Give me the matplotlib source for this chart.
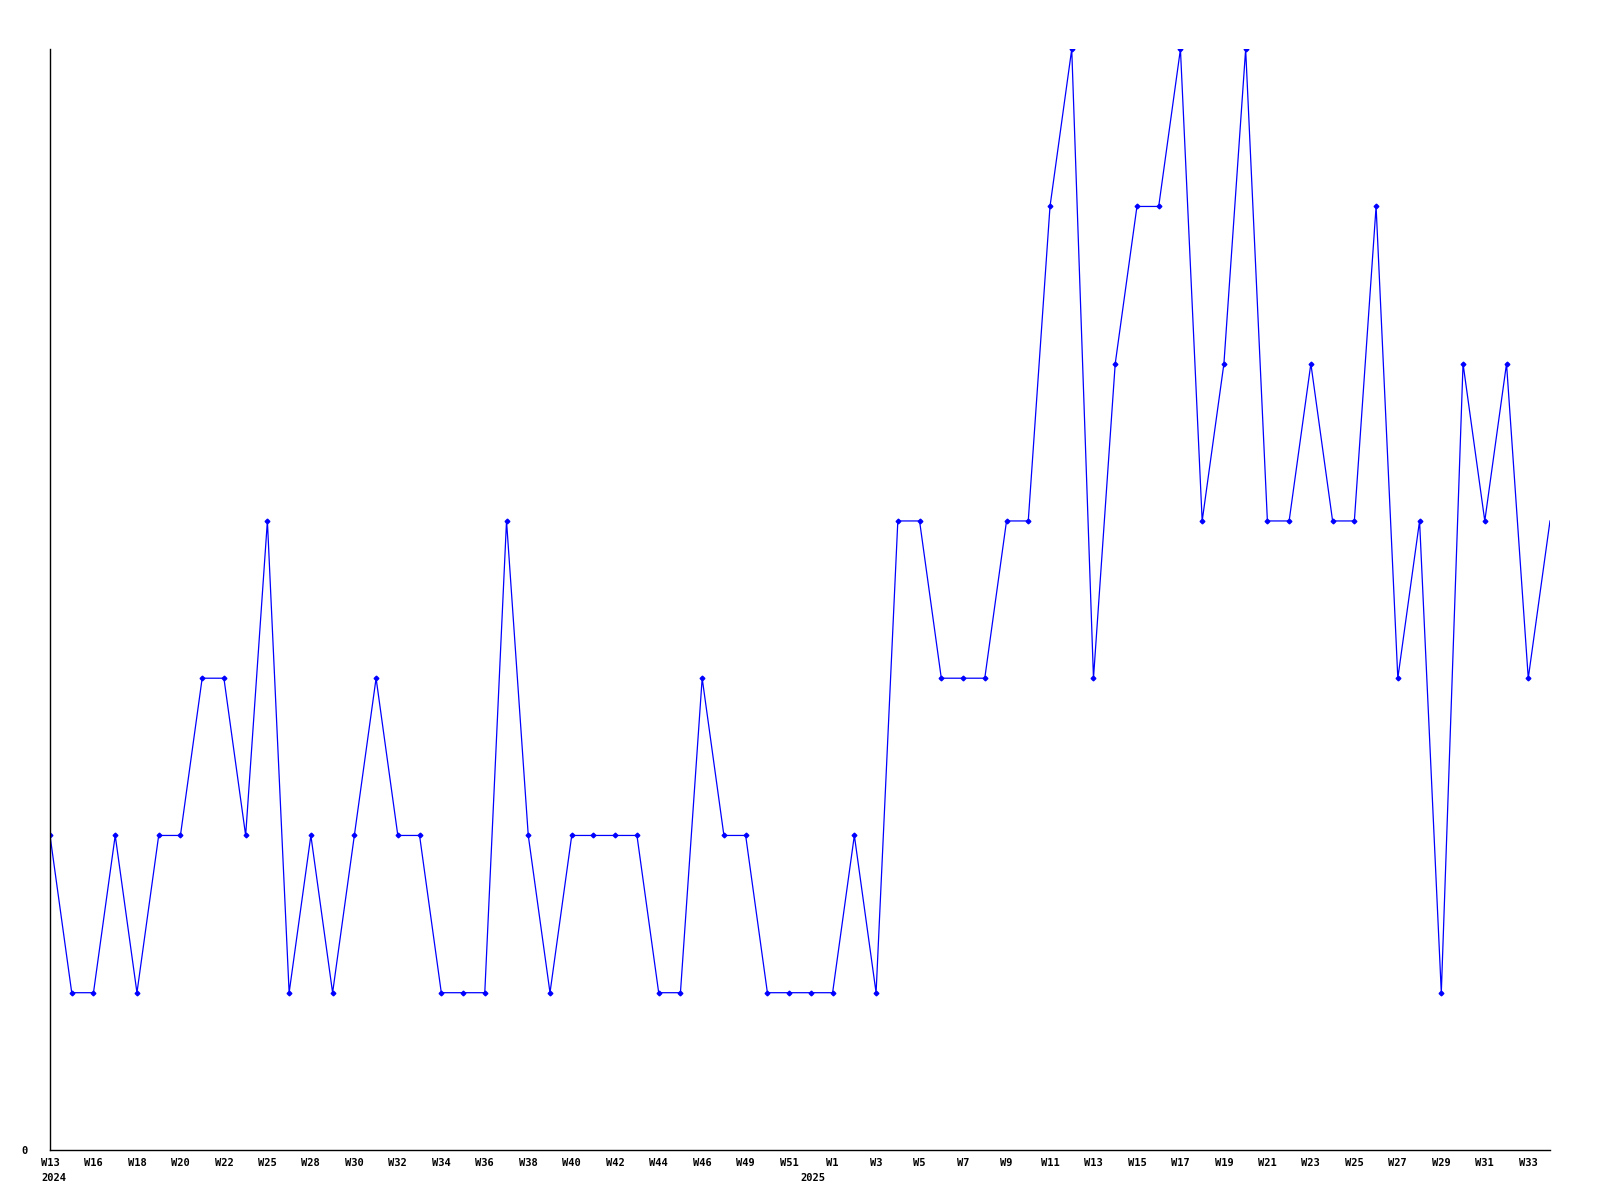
import matplotlib
matplotlib.use("Agg")
import matplotlib.pyplot as plt
import matplotlib.transforms as mtransforms

# weekly counts, W13 2024 .. W34 2025
values = [2, 1, 1, 2, 1, 2, 2, 3, 3, 2,
          4, 1, 2, 1, 2, 3, 2, 2, 1, 1,
          1, 4, 2, 1, 2, 2, 2, 2, 1, 1,
          3, 2, 2, 1, 1, 1, 1, 2, 1, 4,
          4, 3, 3, 3, 4, 4, 6, 7, 3, 5,
          6, 6, 7, 4, 5, 7, 4, 4, 5, 4,
          4, 6, 3, 4, 1, 5, 4, 5, 3, 4]
week_labels = ["W13", "W16", "W18", "W20", "W22", "W25", "W28", "W30", "W32",
               "W34", "W36", "W38", "W40", "W42", "W44", "W46", "W49", "W51",
               "W1", "W3", "W5", "W7", "W9", "W11", "W13", "W15", "W17", "W19",
               "W21", "W23", "W25", "W27", "W29", "W31", "W33"]
years = ["2024", "2025"]
year_pos = [0.2, 35.1]

plt.rcParams['font.family'] = ['DejaVu Sans Mono']

fig = plt.figure(figsize=(16, 12), dpi=100)
ax = fig.add_axes([0.03125, 0.0417, 0.9375, 0.9173])

x = list(range(len(values)))
ax.plot(x, values, color="#0000ff", linewidth=0.9, marker="D", markersize=2.4,
        markevery=list(range(len(values) - 1)))

ax.set_xlim(0, len(values) - 1)
ax.set_ylim(0, 7)
for s in ["top", "right"]:
    ax.spines[s].set_visible(False)
for s in ["left", "bottom"]:
    ax.spines[s].set_linewidth(1.0)

ax.set_xticks(range(0, len(values), 2))
ax.set_xticklabels(week_labels, fontsize=7.5, fontweight="bold")
ax.set_yticks([0])
ax.set_yticklabels(["0"], fontsize=7.5, fontweight="bold")
ax.tick_params(axis="x", length=0, pad=6)
ax.tick_params(axis="y", length=0, pad=16)

trans = mtransforms.blended_transform_factory(ax.transData, ax.transAxes)
for yr, p in zip(years, year_pos):
    ax.text(p, -0.021, yr, transform=trans, ha="center", va="top",
            fontsize=7.5, fontweight="bold")

fig.savefig("out.png", dpi=100)
